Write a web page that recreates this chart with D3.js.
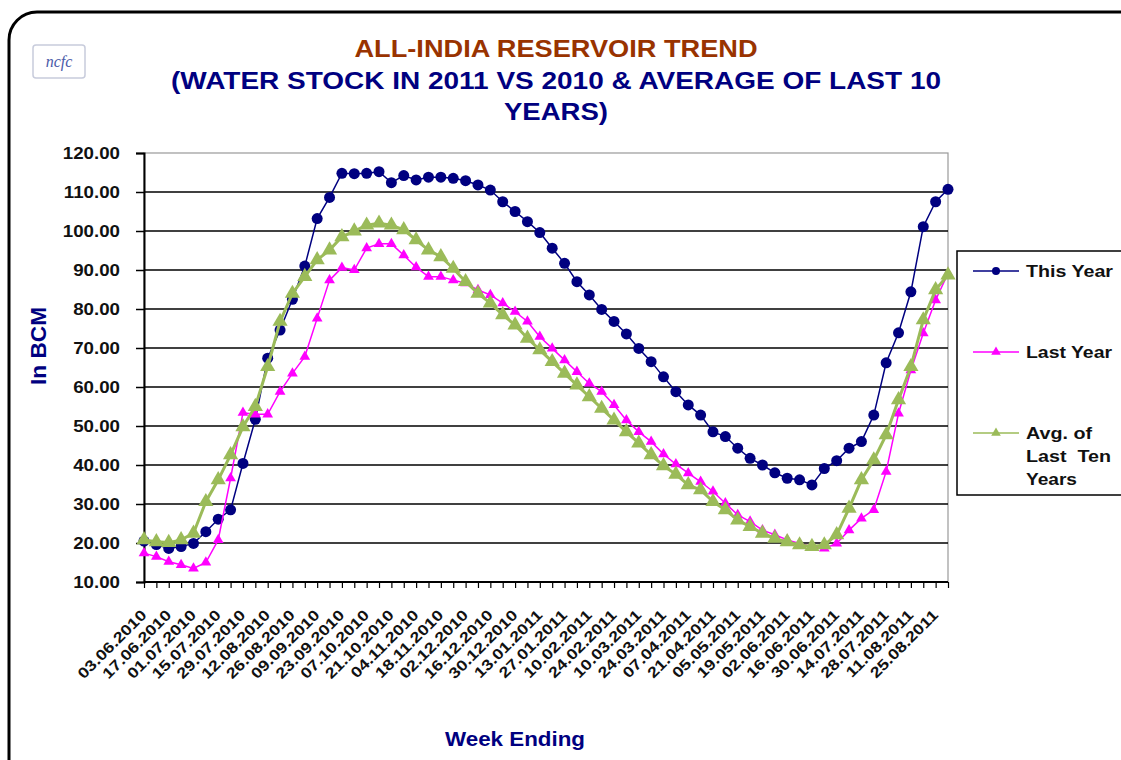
<!DOCTYPE html>
<html>
<head>
<meta charset="utf-8">
<script src="https://cdn.jsdelivr.net/npm/d3@7"></script>
<style>
  body { margin: 0; background: #fff; }
  svg { display: block; font-family: Arial, "Liberation Sans", sans-serif; }
</style>
</head>
<body>
<svg id="chart" width="1121" height="760"></svg>
<script>
// weekly dates, one per point
const startDate = "03.06.2010";
const weekCount = 66;

const thisYear = [20.5, 19.6, 18.6, 19.1, 19.9, 22.9, 26.1, 28.5, 40.4, 51.7,
  67.4, 74.6, 82.5, 91.0, 103.2, 108.6, 114.8, 114.7, 114.8, 115.2,
  112.4, 114.2, 113.1, 113.8, 113.8, 113.5, 112.9, 111.8, 110.5, 107.5,
  105.0, 102.4, 99.6, 95.6, 91.7, 87.0, 83.6, 79.9, 76.8, 73.6,
  69.9, 66.5, 62.6, 58.8, 55.4, 52.8, 48.5, 47.3, 44.3, 41.7,
  40.0, 38.0, 36.6, 36.2, 34.9, 39.1, 41.1, 44.3, 46.0, 52.8,
  66.2, 73.9, 84.4, 101.1, 107.5, 110.7];

const lastYear = [17.4, 16.5, 15.2, 14.4, 13.5, 15.0, 20.8, 36.6, 53.4, 53.0,
  53.0, 58.8, 63.5, 67.8, 77.6, 87.4, 90.6, 90.0, 95.6, 96.7,
  96.7, 93.8, 90.7, 88.3, 88.3, 87.4, 86.6, 84.9, 83.6, 81.5,
  79.3, 76.8, 72.9, 69.9, 66.9, 63.9, 60.9, 58.8, 55.4, 51.5,
  48.5, 46.0, 42.8, 40.2, 37.9, 35.7, 33.2, 30.2, 27.2, 25.5,
  23.3, 22.1, 20.8, 19.9, 19.1, 18.6, 19.9, 23.3, 26.3, 28.5,
  38.3, 53.2, 64.3, 73.8, 82.3, 89.1];

const avgTen = [20.8, 20.3, 20.1, 20.8, 22.5, 30.6, 36.2, 42.6, 49.8, 55.0,
  65.2, 76.8, 84.0, 88.3, 92.6, 95.1, 98.5, 100.0, 101.5, 102.0,
  101.5, 100.3, 97.7, 95.1, 93.4, 90.4, 87.0, 84.0, 81.5, 78.5,
  75.9, 72.5, 69.5, 66.5, 63.5, 60.5, 57.5, 54.5, 51.5, 48.5,
  45.6, 42.6, 39.8, 37.6, 34.9, 33.6, 30.6, 28.5, 25.9, 24.2,
  22.5, 21.2, 20.3, 19.5, 19.1, 19.5, 22.1, 28.9, 36.2, 41.3,
  47.7, 56.7, 65.2, 77.2, 84.9, 88.7];

const yTicks = [10, 20, 30, 40, 50, 60, 70, 80, 90, 100, 110, 120];
const legendNames = ["This Year", "Last Year", "Avg. of Last Ten Years"];

const parse = d3.timeParse("%d.%m.%Y");
const fmt = d3.timeFormat("%d.%m.%Y");
const weeks = d3.range(weekCount).map(i => fmt(d3.timeDay.offset(parse(startDate), i * 7)));

const svg = d3.select("#chart");

// the original text is drawn a little wider than Arial
function stretch(sel, k) {
  sel.each(function () {
    const w = this.getComputedTextLength();
    d3.select(this).attr("textLength", w * k).attr("lengthAdjust", "spacingAndGlyphs");
  });
}
function fit(sel, w) {
  sel.attr("textLength", w).attr("lengthAdjust", "spacingAndGlyphs");
}

// outer rounded frame
svg.append("rect")
  .attr("x", 9).attr("y", 12)
  .attr("width", 1150).attr("height", 790)
  .attr("rx", 28)
  .attr("fill", "none").attr("stroke", "#000").attr("stroke-width", 3);

// logo
svg.append("rect")
  .attr("x", 33).attr("y", 45).attr("width", 52).attr("height", 33)
  .attr("rx", 3)
  .attr("fill", "#fff").attr("stroke", "#c8ccdc").attr("stroke-width", 1.5);
svg.append("text")
  .attr("x", 59).attr("y", 67)
  .attr("text-anchor", "middle")
  .attr("font-family", "'Liberation Serif', serif")
  .attr("font-style", "italic")
  .attr("font-size", 16)
  .attr("fill", "#4a5aa8")
  .text("ncfc");

// titles
const titles = [
  { t: "ALL-INDIA RESERVOIR TREND", y: 57, w: 403, c: "#993300" },
  { t: "(WATER STOCK IN 2011 VS 2010 & AVERAGE OF LAST 10", y: 89, w: 770, c: "#000080" },
  { t: "YEARS)", y: 120, w: 104, c: "#000080" }
];
titles.forEach(d => {
  svg.append("text")
    .attr("x", 556).attr("y", d.y)
    .attr("text-anchor", "middle").attr("font-weight", "bold").attr("font-size", 24)
    .attr("fill", d.c)
    .text(d.t)
    .call(fit, d.w);
});

const x0 = 144, x1 = 948, yTop = 153, yBot = 582;

const x = d3.scalePoint().domain(weeks).range([x0, x1]);
const y = d3.scaleLinear().domain([10, 120]).range([yBot, yTop]);

// plot border (grey)
svg.append("rect")
  .attr("x", x0).attr("y", yTop).attr("width", x1 - x0).attr("height", yBot - yTop)
  .attr("fill", "#fff").attr("stroke", "#999").attr("stroke-width", 1.2);

// gridlines
svg.append("g")
  .selectAll("line")
  .data(yTicks.filter(v => v > 10 && v < 120))
  .join("line")
  .attr("x1", x0).attr("x2", x1)
  .attr("y1", d => y(d)).attr("y2", d => y(d))
  .attr("stroke", "#000").attr("stroke-width", 1.5);

// y axis
const yAxis = svg.append("g")
  .attr("transform", `translate(${x0},0)`)
  .call(d3.axisLeft(y).tickValues(yTicks).tickFormat(d3.format(".2f")).tickSize(8).tickPadding(16));
yAxis.select(".domain").attr("stroke", "#000").attr("stroke-width", 2);
yAxis.selectAll(".tick line").attr("stroke", "#000").attr("stroke-width", 1.5);
yAxis.selectAll("text")
  .attr("font-size", 17).attr("font-weight", "bold").attr("fill", "#111")
  .attr("font-family", "Arial, 'Liberation Sans', sans-serif")
  .call(stretch, 1.1);

// x axis
const xAxis = svg.append("g")
  .attr("transform", `translate(0,${yBot})`)
  .call(d3.axisBottom(x).tickSize(6).tickFormat((d, i) => i % 2 === 0 ? d : ""));
xAxis.select(".domain").attr("stroke", "#000").attr("stroke-width", 2).attr("d", `M${x0},0H${x1}`);
xAxis.selectAll(".tick line").attr("stroke", "#000").attr("stroke-width", 1.2);
xAxis.selectAll("text")
  .attr("font-size", 15).attr("font-weight", "bold").attr("fill", "#111")
  .attr("font-family", "Arial, 'Liberation Sans', sans-serif")
  .attr("text-anchor", "end")
  .attr("x", 0).attr("y", 0).attr("dy", 0)
  .attr("transform", "translate(3,34) rotate(-45)")
  .call(stretch, 1.2);

// axis titles
svg.append("text")
  .attr("transform", "translate(46,346) rotate(-90)")
  .attr("text-anchor", "middle").attr("font-weight", "bold").attr("font-size", 22)
  .attr("fill", "#000080")
  .text("In BCM")
  .call(fit, 78);
svg.append("text")
  .attr("x", 515).attr("y", 746)
  .attr("text-anchor", "middle").attr("font-weight", "bold").attr("font-size", 21)
  .attr("fill", "#000080")
  .text("Week Ending")
  .call(fit, 140);

const line = d3.line().x((d, i) => x(weeks[i])).y(d => y(d));
const tri = d3.symbol().type(d3.symbolTriangle);

const series = [
  { name: legendNames[0], values: thisYear, color: "#000080", width: 1.5, marker: "circle", size: 5.5 },
  { name: legendNames[1], values: lastYear, color: "#ff00ff", width: 1.5, marker: "tri", size: 50 },
  { name: legendNames[2], values: avgTen, color: "#9bbb59", width: 3, marker: "tri", size: 100 }
];

series.forEach(s => {
  const g = svg.append("g");
  g.append("path")
    .datum(s.values)
    .attr("d", line)
    .attr("fill", "none")
    .attr("stroke", s.color)
    .attr("stroke-width", s.width);
  if (s.marker === "circle") {
    g.selectAll("circle")
      .data(s.values)
      .join("circle")
      .attr("cx", (d, i) => x(weeks[i]))
      .attr("cy", d => y(d))
      .attr("r", s.size)
      .attr("fill", s.color);
  } else {
    g.selectAll("path.m")
      .data(s.values)
      .join("path")
      .attr("class", "m")
      .attr("d", tri.size(s.size))
      .attr("transform", (d, i) => `translate(${x(weeks[i])},${y(d)})`)
      .attr("fill", s.color);
  }
});

// legend
const lg = svg.append("g");
lg.append("rect")
  .attr("x", 957).attr("y", 251).attr("width", 180).attr("height", 244)
  .attr("fill", "#fff").attr("stroke", "#000").attr("stroke-width", 1.5);

const legendRows = [
  { s: series[0], y: 271, lines: [["This Year", 87]] },
  { s: series[1], y: 352, lines: [["Last Year", 86]] },
  { s: series[2], y: 433, lines: [["Avg. of", 66], ["Last  Ten", 85], ["Years", 51]] }
];
legendRows.forEach(r => {
  lg.append("line")
    .attr("x1", 973).attr("x2", 1019).attr("y1", r.y).attr("y2", r.y)
    .attr("stroke", r.s.color).attr("stroke-width", 1.5);
  if (r.s.marker === "circle") {
    lg.append("circle").attr("cx", 996).attr("cy", r.y).attr("r", 4).attr("fill", r.s.color);
  } else {
    lg.append("path").attr("d", tri.size(40)).attr("transform", `translate(996,${r.y})`).attr("fill", r.s.color);
  }
  r.lines.forEach((t, k) => {
    lg.append("text")
      .attr("x", 1026).attr("y", r.y + k * 23 + 6)
      .attr("font-weight", "bold").attr("font-size", 17).attr("fill", "#111")
      .style("white-space", "pre")
      .text(t[0])
      .call(fit, t[1]);
  });
});
</script>
</body>
</html>
